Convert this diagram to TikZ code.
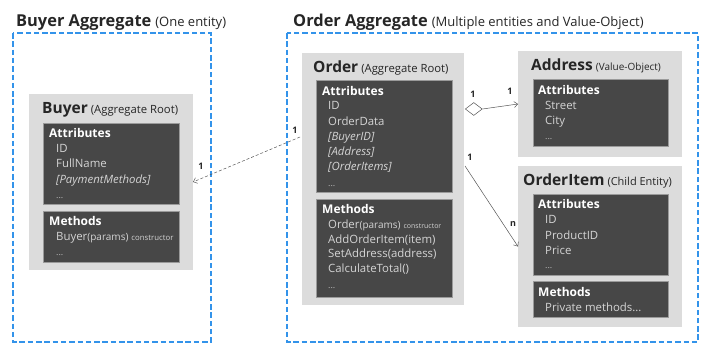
\documentclass[tikz,border=0pt]{standalone}
\usepackage{fontspec}
\setmainfont{Open Sans}
\usetikzlibrary{arrows.meta,shapes.geometric,calc}

\definecolor{aggblue}{HTML}{3393EA}
\definecolor{boxgrey}{HTML}{DCDCDC}
\definecolor{panel}{HTML}{474747}
\definecolor{panelrule}{HTML}{9A9A9A}
\definecolor{itemtxt}{HTML}{D4D4D4}
\definecolor{inktxt}{HTML}{262626}
\definecolor{wire}{HTML}{555555}

\newcommand\fsz[1]{\fontsize{#1}{#1}\selectfont}

\tikzset{
  aggregate/.style={draw=aggblue, line width=1.2pt, dash pattern=on 5.5pt off 2.8pt},
  entity/.style={fill=boxgrey, draw=none, inner sep=0pt, outer sep=0pt, anchor=north west},
  panelbox/.style={fill=panel, draw=panelrule, line width=0.4pt, inner sep=0pt, outer sep=0pt, anchor=north west},
  grouptitle/.style={anchor=base west, inner sep=0pt, text=inktxt},
  boxtitle/.style={anchor=base west, inner sep=0pt, text=inktxt},
  head/.style={anchor=base west, inner sep=0pt, text=white, font=\fsz{12}\bfseries},
  item/.style={anchor=base west, inner sep=0pt, text=itemtxt, font=\fsz{11.4}},
  itemit/.style={item, font=\fsz{11.4}\itshape},
  dots/.style={anchor=base west, inner sep=0pt, text=itemtxt!80!panel, font=\fsz{9}},
  mult/.style={inner sep=0pt, text=inktxt, font=\fsz{9}\bfseries},
  link/.style={draw=wire, line width=0.5pt, -{Straight Barb[length=3.5pt,width=6pt]}},
  refer/.style={link, dash pattern=on 3pt off 2pt},
  holder/.style={diamond, draw=wire, fill=white, line width=0.5pt, inner sep=0pt,
    minimum width=17pt, minimum height=13pt, anchor=west}
}

\begin{document}
\begin{tikzpicture}[x=1pt, y=-1pt]
\useasboundingbox (0,0) rectangle (718,362);

% aggregate boundaries
\draw[aggregate] (13,33) rectangle (211,342);
\draw[aggregate] (287,33) rectangle (698,342);
\node[grouptitle] (buyer-agg) at (16,26)
  {{\fsz{16.4}\bfseries Buyer Aggregate}\hspace{4pt}{\fsz{13}(One entity)}};
\node[grouptitle] (order-agg) at (293,26)
  {{\fsz{16.4}\bfseries Order Aggregate}\hspace{4pt}{\fsz{13}(Multiple entities and Value-Object)}};

% Buyer entity
\node[entity, minimum width=164pt, minimum height=176pt] (buyer) at (29,94) {};
\node[boxtitle] (buyer-t) at (42,113) {{\fsz{15.5}\bfseries Buyer}\hspace{3pt}{\fsz{11.3}(Aggregate Root)}};
\node[panelbox, minimum width=136pt, minimum height=81pt] (buyer-a) at (43,123) {};
\node[head] (buyer-ah) at (49,137) {Attributes};
\node[item] (buyer-a1) at (56,152) {ID};
\node[item] (buyer-a2) at (56,167) {FullName};
\node[itemit] (buyer-a3) at (56,183) {[PaymentMethods]};
\node[dots] (buyer-a4) at (56,198) {...};
\node[panelbox, minimum width=136pt, minimum height=51pt] (buyer-m) at (43,211) {};
\node[head] (buyer-mh) at (49,225) {Methods};
\node[item] (buyer-m1) at (56,240) {Buyer{\fsz{10}(params)} {\fsz{7.8}constructor}};
\node[dots] (buyer-m2) at (56,255) {...};

% Order entity
\node[entity, minimum width=162pt, minimum height=252pt] (order) at (302,53) {};
\node[boxtitle] (order-t) at (313,72) {{\fsz{15.5}\bfseries Order}\hspace{3pt}{\fsz{11.3}(Aggregate Root)}};
\node[panelbox, minimum width=136pt, minimum height=112pt] (order-a) at (316,80) {};
\node[head] (order-ah) at (322,95) {Attributes};
\node[item] (order-a1) at (328,109) {ID};
\node[item] (order-a2) at (328,125) {OrderData};
\node[itemit] (order-a3) at (328,140) {[BuyerID]};
\node[itemit] (order-a4) at (328,155) {[Address]};
\node[itemit] (order-a5) at (328,170) {[OrderItems]};
\node[dots] (order-a6) at (328,186) {...};
\node[panelbox, minimum width=136pt, minimum height=98pt] (order-m) at (316,199) {};
\node[head] (order-mh) at (322,213) {Methods};
\node[item] (order-m1) at (328,228) {Order{\fsz{10}(params)} {\fsz{7}constructor}};
\node[item] (order-m2) at (328,243) {AddOrderItem(item)};
\node[item] (order-m3) at (328,257) {SetAddress(address)};
\node[item] (order-m4) at (328,272) {CalculateTotal()};
\node[dots] (order-m5) at (328,288) {...};

% Address value object
\node[entity, minimum width=164pt, minimum height=106pt] (address) at (518,51) {};
\node[boxtitle] (address-t) at (531,70) {{\fsz{15.5}\bfseries Address}\hspace{3pt}{\fsz{10}(Value-Object)}};
\node[panelbox, minimum width=135pt, minimum height=67pt] (address-a) at (533,79) {};
\node[head] (address-ah) at (538,94) {Attributes};
\node[item] (address-a1) at (545,109) {Street};
\node[item] (address-a2) at (545,124) {City};
\node[dots] (address-a3) at (545,139) {...};

% OrderItem child entity
\node[entity, minimum width=164pt, minimum height=161pt] (orderitem) at (518,166) {};
\node[boxtitle] (orderitem-t) at (523,185) {{\fsz{15.5}\bfseries OrderItem}\hspace{3pt}{\fsz{11}(Child Entity)}};
\node[panelbox, minimum width=135pt, minimum height=81pt] (orderitem-a) at (533,194) {};
\node[head] (orderitem-ah) at (538,208) {Attributes};
\node[item] (orderitem-a1) at (545,223) {ID};
\node[item] (orderitem-a2) at (545,239) {ProductID};
\node[item] (orderitem-a3) at (545,254) {Price};
\node[dots] (orderitem-a4) at (545,268) {...};
\node[panelbox, minimum width=135pt, minimum height=36pt] (orderitem-m) at (533,281) {};
\node[head] (orderitem-mh) at (538,296) {Methods};
\node[item] (orderitem-m1) at (545,311) {Private methods...};

% associations
\coordinate (order-ref) at ($(order.north west)+(-2,84)$);
\draw[refer] (order-ref) -- (buyer.east);
\node[mult] (m-ob1) at (295,130) {1};
\node[mult] (m-ob2) at (201,166) {1};

\node[holder] (agg) at ($(order.north east)+(1,56)$) {};
\draw[link] (agg.east) -- (address.west);
\node[mult] (m-oa1) at (473,94) {1};
\node[mult] (m-oa2) at (510,91) {1};

\coordinate (order-items) at ($(order.north east)+(1,113)$);
\draw[link] (order-items) -- (orderitem.west);
\node[mult] (m-oi1) at (470,157) {1};
\node[mult] (m-oi2) at (513,224) {n};
\end{tikzpicture}
\end{document}
